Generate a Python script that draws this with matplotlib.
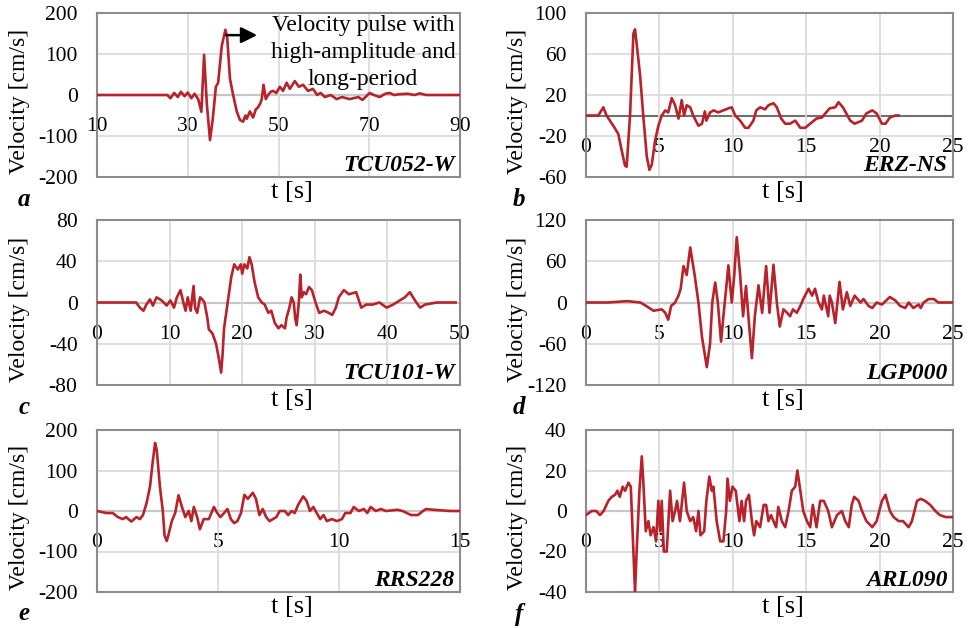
import numpy as np
import matplotlib.pyplot as plt

plt.rcParams['font.family'] = ['Liberation Serif', 'DejaVu Serif']
plt.rcParams['axes.unicode_minus'] = False

# ---- a: TCU052-W ----
t_a = [10, 25.5, 26.2, 27.0, 27.8, 28.5, 29.3, 30.0, 30.8, 31.5, 32.3, 33.0, 33.6, 34.2, 34.9,
       35.5, 36.2, 36.7, 37.5, 38.3, 38.7, 39.3, 40.0, 40.8, 41.5, 42.2, 42.7, 43.0, 43.7, 44.4,
       45.0, 45.5, 46.0, 46.3, 46.7, 47.2, 47.7, 48.3, 48.8, 49.5, 50.3, 51.0, 51.8, 52.5, 53.6,
       54.5, 55.4, 56.5, 57.6, 58.5, 59.3, 60.2, 61.5, 62.8, 64.0, 65.7, 67.6, 68.5, 70.1, 71.0,
       72.3, 73.5, 74.5, 75.5, 76.7, 78.5, 80.0, 81.1, 82.5, 83.3, 85.0, 90]
v_a = [0, 0, -8, 5, -5, 8, -3, 6, -8, 3, -10, -41, 98, -20, -110,
       -60, 20, 30, 120, 159, 140, 40, 0, -40, -61, -65, -50, -58, -40, -55,
       -35, -30, -20, -10, 25, -10, 0, 8, 10, 5, 20, 10, 30, 15, 34,
       20, 25, 10, 15, 0, 5, -5, 0, -10, -5, -10, -5, -12, 5, 0,
       -5, 3, 5, 0, 2, 3, 0, 4, 0, 0, 0, 0]

# ---- b: ERZ-NS ----
t_b = [0, 0.84, 1.18, 1.4, 1.86, 2.2, 2.43, 2.66, 2.77, 3.0, 3.23, 3.34, 3.45, 3.68, 3.9, 4.14,
       4.32, 4.48, 4.7, 4.93, 5.16, 5.4, 5.6, 5.84, 6.07, 6.3, 6.52, 6.68, 6.86, 7.1, 7.3, 7.66,
       7.9, 8.1, 8.2, 8.45, 8.7, 9.0, 9.36, 9.7, 9.93, 10.16, 10.5, 10.84, 11.07, 11.4, 11.6,
       11.86, 12.2, 12.43, 12.77, 13.0, 13.3, 13.57, 13.9, 14.25, 14.6, 14.93, 15.27, 15.7,
       16.07, 16.3, 16.6, 16.98, 17.2, 17.5, 18.0, 18.3, 18.8, 19.1, 19.5, 19.8, 20.16, 20.4,
       20.7, 21.07, 21.3]
v_b = [0, 0, 8, 0, -10, -18, -34, -49, -50, 0, 80, 84, 70, 40, 0, -40,
       -53, -48, -25, -10, 0, 5, 3, 17, 10, -3, 15, 0, 10, 8, 0, -10,
       -8, 4, -5, 3, 5, 3, 5, 7, 8, 0, -5, -12, -12, -5, 5,
       8, 6, 10, 12, 8, -3, -8, -8, -5, -12, -12, -8, -3,
       -2, 2, 7, 8, 13, 8, -5, -8, -5, 2, 5, 2, -8, -8,
       -2, 0, 0]

# ---- c: TCU101-W ----
t_c = [0, 5.4, 5.9, 6.4, 6.8, 7.3, 7.7, 8.2, 8.7, 9.2, 9.6, 10.1, 10.6, 11.0, 11.5, 11.9, 12.2,
       12.5, 12.9, 13.3, 13.5, 13.8, 14.2, 14.5, 14.8, 15.2, 15.4, 15.9, 16.4, 16.8, 17.1, 17.3,
       17.5, 18.0, 18.5, 18.9, 19.4, 19.8, 20.0, 20.3, 20.7, 21.0, 21.3, 21.7, 22.2, 22.7, 23.1,
       23.6, 24.0, 24.5, 25.0, 25.4, 25.9, 26.1, 26.5, 26.8, 27.1, 27.3, 27.5, 27.8, 28.0, 28.2,
       28.5, 28.8, 29.2, 29.6, 30.1, 30.6, 31.3, 31.9, 32.4, 32.9, 33.3, 34.0, 34.7, 35.7, 36.4,
       37.1, 38.0, 38.9, 39.9, 40.8, 41.7, 42.4, 43.1, 43.8, 44.5, 45.2, 46.8, 49.4]
v_c = [0, 0, -5, -8, -2, 3, -3, 5, 3, 0, -3, 2, -5, 5, 12, 0, -8,
       5, -8, 16, -5, -10, 5, 3, 0, -15, -26, -30, -40, -55, -68, -50,
       -25, 0, 25, 37, 32, 37, 28, 37, 33, 44, 37, 20, 5, 0, -2,
       -10, -8, -20, -25, -22, -25, -15, -5, 5, 0, -15, -22, 0, 27, 5,
       10, 8, 15, 12, 0, -10, -8, -10, -12, -5, 5, 12, 8, 10, -5,
       -2, -2, 0, -5, -2, 2, 5, 10, 2, -5, -2, 0, 0]

# ---- d: LGP000 ----
t_d = [0, 1.5, 2.8, 3.7, 4.1, 4.6, 5.16, 5.4, 5.6, 5.8, 6.07, 6.3, 6.45, 6.64, 6.86, 7.1, 7.4,
       7.66, 7.9, 8.05, 8.23, 8.45, 8.6, 8.8, 8.98, 9.2, 9.36, 9.7, 9.93, 10.1, 10.27, 10.5,
       10.7, 10.9, 11.1, 11.3, 11.5, 11.75, 12.0, 12.27, 12.5, 12.77, 13.0, 13.2, 13.45, 13.7,
       13.9, 14.1, 14.36, 14.6, 14.8, 15.16, 15.4, 15.6, 15.84, 16.07, 16.2, 16.5, 16.6, 16.75,
       16.98, 17.27, 17.5, 17.77, 18.0, 18.3, 18.7, 18.9, 19.25, 19.5, 19.8, 20.16, 20.7, 21.07,
       21.4, 21.75, 21.98, 22.3, 22.66, 22.8, 23.0, 23.34, 23.7, 24.0, 25.0]
v_d = [0, 0, 2, 0, -5, -12, -10, -15, -25, -5, 0, 10, 20, 53, 40, 80, 40,
       0, -50, -70, -94, -60, 0, 29, 0, -57, -20, 54, 0, 40, 95, 40,
       -20, 24, -30, -81, -20, 25, -15, 53, -15, 55, 0, -35, -10, -15,
       -20, -10, -15, -5, 5, 20, 10, 20, 0, -10, 10, -20, 10, 0,
       -30, 30, -10, 15, -5, 10, 0, 5, -5, -8, 0, -3, 8, 3,
       -5, -8, 0, -8, -3, -8, 0, 5, 5, 0, 0]

# ---- e: RRS228 ----
t_e = [0, 0.38, 0.65, 0.86, 1.07, 1.2, 1.42, 1.63, 1.77, 1.9, 2.05, 2.19, 2.3, 2.4, 2.47, 2.6,
       2.72, 2.79, 2.88, 2.95, 3.09, 3.23, 3.37, 3.51, 3.65, 3.79, 3.9, 4.0, 4.14, 4.25, 4.41,
       4.62, 4.83, 4.97, 5.1, 5.25, 5.39, 5.53, 5.67, 5.8, 5.95, 6.09, 6.23, 6.44, 6.57, 6.71,
       6.85, 6.99, 7.13, 7.27, 7.41, 7.55, 7.76, 7.9, 8.04, 8.17, 8.31, 8.52, 8.66, 8.8, 8.94,
       9.08, 9.22, 9.36, 9.5, 9.7, 9.92, 10.12, 10.26, 10.47, 10.61, 10.82, 11.03, 11.17, 11.31,
       11.52, 11.73, 11.94, 12.42, 12.63, 12.98, 13.26, 13.47, 13.6, 13.9, 14.6, 15.0]
v_e = [0, -5, -5, -15, -20, -15, -26, -15, -20, -10, 20, 60, 120, 168, 150, 60,
       0, -60, -74, -60, -25, -5, 39, 10, -15, 0, -25, 10, -15, -45, -20,
       -20, 10, -5, -15, -5, 5, -20, -30, -25, -5, 40, 30, 45, 30, -10,
       5, -15, -25, -20, -15, 0, 0, -10, 0, -5, 15, 36, 25, 0, 10,
       -5, -20, -10, -25, -20, -25, -20, -5, -5, 10, 0, 5, -5, 10,
       0, 5, 0, 3, 0, -10, -10, 0, 5, 3, 0, 0]

# ---- f: ARL090 ----
t_f = [0, 0.39, 0.7, 0.95, 1.2, 1.52, 1.75, 1.98, 2.14, 2.3, 2.5, 2.66, 2.89, 3.05, 3.23, 3.34,
       3.45, 3.64, 3.8, 3.9, 4.07, 4.25, 4.4, 4.6, 4.77, 4.93, 5.05, 5.16, 5.3, 5.5, 5.73, 5.9,
       6.07, 6.2, 6.4, 6.68, 6.86, 7.1, 7.3, 7.5, 7.66, 7.8, 8.05, 8.2, 8.4, 8.57, 8.68, 8.9,
       9.14, 9.36, 9.55, 9.64, 9.8, 9.98, 10.2, 10.45, 10.6, 10.77, 10.9, 11.1, 11.3, 11.45,
       11.6, 11.86, 12.1, 12.27, 12.43, 12.6, 12.77, 12.95, 13.1, 13.34, 13.57, 13.8, 14.02,
       14.25, 14.4, 14.6, 14.8, 15.05, 15.27, 15.45, 15.7, 15.95, 16.2, 16.5, 16.75, 17.1,
       17.43, 17.66, 17.9, 18.1, 18.27, 18.57, 18.8, 19.1, 19.5, 19.8, 20.16, 20.4, 20.7,
       20.95, 21.3, 21.6, 21.98, 22.2, 22.55, 22.8, 23.1, 23.45, 23.8, 24.1, 24.5, 24.8, 25.0]
v_f = [-2, 0, 0, -2, 0, 5, 7, 8, 10, 7, 12, 10, 14, 12, -20, -40,
       -20, 10, 27, 15, -10, -5, -12, -8, -15, 5, -10, 5, -20, -20, 10, -5,
       0, 5, -5, 14, 0, -5, -3, -10, 0, -12, -10, 5, 17, 10, 12, -5,
       -15, -15, 0, 16, 5, 12, 10, -5, 5, -5, 5, 8, -5, -12,
       -5, -8, 3, 3, -5, -2, -5, -8, 2, -5, -8, 0, 10,
       12, 20, 10, 0, -5, -8, 3, -8, 5, 5, 0, -8, -2,
       0, -5, -8, 3, 7, 5, 0, -5, -8, -5, 5, 8, 0,
       -3, -5, -5, -8, -5, 5, 6, 5, 3, 0, -2, -3, -3, -3]

panels = [
    ('a', 'TCU052-W', t_a, v_a, (10, 90), np.arange(10, 91, 20), (-200, 200), np.arange(-200, 201, 100)),
    ('b', 'ERZ-NS', t_b, v_b, (0, 25), np.arange(0, 26, 5), (-60, 100), np.arange(-60, 101, 40)),
    ('c', 'TCU101-W', t_c, v_c, (0, 50), np.arange(0, 51, 10), (-80, 80), np.arange(-80, 81, 40)),
    ('d', 'LGP000', t_d, v_d, (0, 25), np.arange(0, 26, 5), (-120, 120), np.arange(-120, 121, 60)),
    ('e', 'RRS228', t_e, v_e, (0, 15), np.arange(0, 16, 5), (-200, 200), np.arange(-200, 201, 100)),
    ('f', 'ARL090', t_f, v_f, (0, 25), np.arange(0, 26, 5), (-40, 40), np.arange(-40, 41, 20)),
]

W, H = 973, 628
lefts = [97, 586]
tops = [13, 220, 430]
bottoms = [177, 385, 592]
widths = [363, 367]
ylab_x = [30, 528]

red = '#B8222A'
fs = 15.5

fig = plt.figure(figsize=(W / 100, H / 100), dpi=100)

for i, (letter, name, t, v, xl, xt, yl, yt) in enumerate(panels):
    r, c = divmod(i, 2)
    x0 = lefts[c] / W
    w = widths[c] / W
    y0 = 1 - bottoms[r] / H
    h = (bottoms[r] - tops[r]) / H
    ax = fig.add_axes([x0, y0, w, h])
    ax.set_xlim(*xl)
    ax.set_ylim(*yl)
    ax.set_xticks(xt)
    ax.set_yticks(yt)
    ax.grid(True, color='#D9D9D9', lw=1.2)
    ax.set_axisbelow(True)
    for s in ax.spines.values():
        s.set_color('#8C8C8C')
        s.set_linewidth(1.5)
    ax.tick_params(axis='x', length=0, labelbottom=False)
    ax.tick_params(axis='y', length=0, labelsize=fs, pad=14)

    # x axis crossing at v = 0, labels below it
    zf = (0 - yl[0]) / (yl[1] - yl[0])
    sec = ax.secondary_xaxis(zf)
    sec.set_alignment('bottom')
    sec.set_xticks(xt)
    sec.tick_params(length=0, labelsize=fs, pad=16)
    sec.spines['bottom'].set_color('#707070')
    sec.spines['bottom'].set_linewidth(1.5)

    ax.plot(t, v, color=red, lw=1.9, zorder=3)

    ax.set_ylabel('Velocity [cm/s]', fontsize=17)
    ax.yaxis.set_label_coords((ylab_x[c] - lefts[c]) / widths[c], 0.46)
    fig.text(x0 + w / 2 + 13 / W, y0 - 15 / H, 't [s]', fontsize=19,
             ha='center', va='center')
    ax.text(0.985, 0.035, name, transform=ax.transAxes, ha='right', va='baseline',
            fontsize=17, fontweight='bold', fontstyle='italic')
    fig.text((24 if c == 0 else 519) / W, 1 - (bottoms[r] + 22) / H, letter,
             fontsize=18, fontweight='bold', fontstyle='italic',
             ha='center', va='center')

    if letter == 'a':
        ax.annotate('', xy=(45.3, 146), xytext=(38.5, 146),
                    arrowprops=dict(arrowstyle='-|>', color='black', lw=1.8,
                                    mutation_scale=24, shrinkA=0, shrinkB=0))
        ax.text(68.6, 194, 'Velocity pulse with\nhigh-amplitude and\nlong-period',
                fontsize=17, ha='center', va='top', linespacing=1.35)

fig.savefig('out.png', dpi=100)
